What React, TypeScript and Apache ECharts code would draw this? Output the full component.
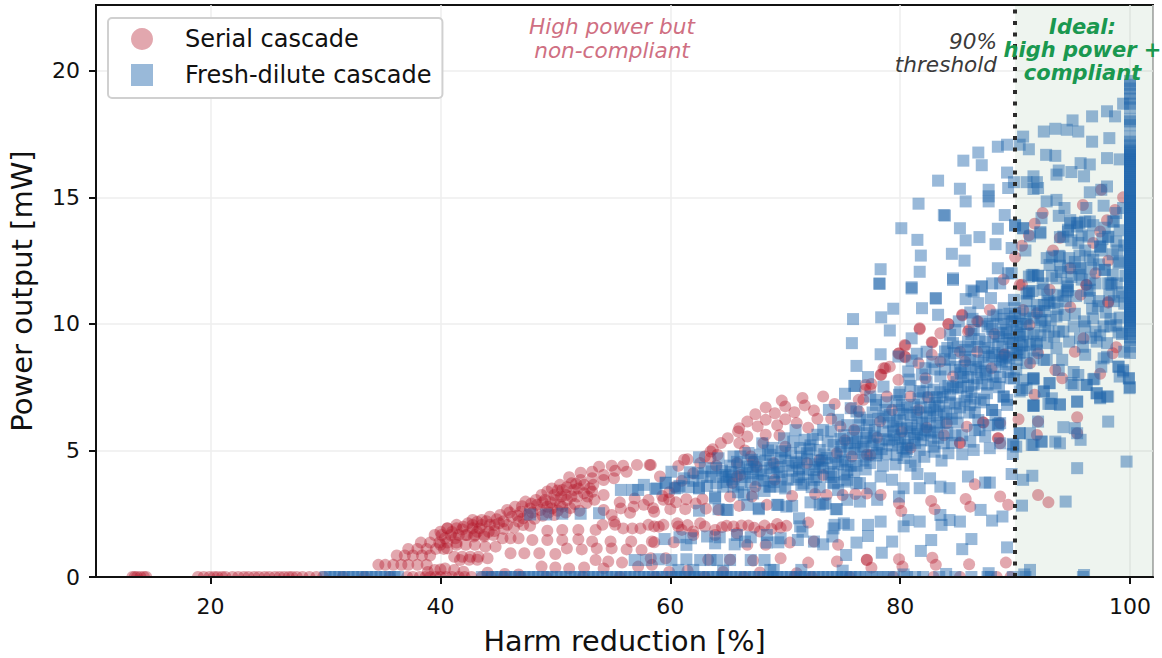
import React, { useEffect, useRef } from "react";
import * as echarts from "echarts";

type P = [number, number];

const xTicks = [20, 40, 60, 80, 100];
const yTicks = [0, 5, 10, 15, 20];

// Serial cascade
const serialZeroRow: P[] = [[13.2,0],[13.4,0],[13.6,0],[13.9,0],[14.2,0],[14.4,0],[18.9,0],[19.4,0],[19.9,0],[20.3,0],[20.6,0],[21,0],[21.3,0],[21.9,0],[22.4,0],[22.9,0],[23.3,0],[23.8,0],[24.2,0],[24.7,0],[25.1,0],[25.6,0],[26,0],[26.4,0],[26.8,0],[27.1,0],[27.5,0],[28,0],[28.6,0],[29.2,0],[29.8,0],[31.5,0],[33.4,0],[35.6,0],[37.1,0],[37.6,0],[38.2,0],[38.7,0],[39.1,0],[39.6,0],[40,0],[40.5,0],[41,0],[41.6,0],[42.1,0],[42.7,0],[43.6,0],[44.4,0],[45.5,0],[47,0],[49.2,0],[52.4,0],[55.6,0],[58.7,0],[63,0],[66.4,0],[70.8,0],[72.3,0],[75.6,0],[79.4,0],[82.9,0],[85.2,0],[88.4,0],[89.6,0]];
const serialLowLeft: P[] = [[34.6,0.48],[35.2,0.48],[35.9,0.48],[36.6,0.48],[37.2,0.48],[38,0.48],[38.8,0.48],[36.2,0.85],[36.9,0.85],[37.6,0.85],[38.4,0.85],[39.1,0.85],[37.2,1.11],[38,1.11],[38.8,1.11],[39.6,1.11],[40.3,1.11],[38.3,1.36],[39.1,1.36],[39.9,1.36],[40.6,1.36],[41.4,1.36],[39.5,1.66],[40.1,1.66],[40.9,1.66],[41.6,1.66],[42.3,1.66],[43,1.66],[43.8,1.66],[40.6,1.93],[41.4,1.93],[42.8,1.93],[38.9,0.2],[39.5,0.28],[40,0.3],[40.4,0.34],[41.2,0.28],[42,0.21],[44.1,0.17],[45.6,0.12],[46.8,0.1]];
const serialRise: P[] = [[40,1.79],[40.6,1.92],[41.4,2.06],[42,1.99],[42.8,2.06],[43.6,2.06],[44.3,2.06],[45.1,2.12],[45.8,2.06],[46.8,2.19],[43.2,1.79],[44.2,1.79],[42.8,2.25],[43.6,2.25],[44.3,2.38],[45.2,2.45],[45.8,2.65],[46.2,2.38],[46.5,2.78],[47,2.58],[47.4,2.98],[47.8,2.71],[48.3,3.04],[48.4,2.85],[48.7,2.65],[48.8,3.24],[49.1,3.04],[49.3,2.78],[49.7,3.5],[49.7,2.71],[49.9,3.24],[50,3.04],[50.4,3.64],[50.4,2.85],[50.6,3.44],[50.6,2.78],[50.9,3.24],[51,3.04],[51.2,3.94],[51.4,3.7],[51.6,3.44],[51.9,3.18],[52.2,4.12],[52.2,3.83],[52.5,3.64],[52.5,3.31],[52.8,3.18],[53.2,4.16],[53.2,3.9],[53.3,3.64],[53.2,3.37],[53.8,4.36],[54.2,4.03],[54.2,3.83],[54.2,3.24],[54.9,4.4],[55.1,3.9],[55.2,4.2],[55.9,4.4],[56.2,4.16],[57.1,4.43],[58.2,4.43]];
const serialRiseDense: P[] = [[44.9,2.28],[45.5,2.2],[46,2.55],[46.7,2.42],[47.2,2.32],[47.6,2.45],[48,2.55],[48.2,2.3],[48.9,2.42],[49.4,2.55],[49.9,2.45],[50.2,2.62],[50.9,2.55],[51.3,2.72],[51.7,2.88],[52.1,2.62],[52.7,2.92],[53.4,3.05],[47.1,2.8],[47.9,2.9],[48.9,2.95],[49.6,2.95],[50.5,3.18],[51.4,3.18],[52,3.5],[53,3.5],[49.3,3.38],[50.2,3.42],[51,3.55],[51.8,3.68],[41.9,1.88],[42.4,2.12],[43.2,2.18],[44,2.2],[44.7,2.05],[45.5,1.9],[46.4,1.95],[47.2,2.05],[41,1.78],[43.4,1.92],[44.7,1.82]];
const serialLens: P[] = [[40.4,1.53],[41.3,1.53],[42.2,1.66],[42.9,1.6],[43.8,1.6],[44.6,1.66],[45.4,1.53],[46.1,1.53],[46.8,1.53],[40,1.27],[40.6,1.13],[41.4,1.27],[42.2,1.27],[43,1.27],[43.9,1.2],[44.8,1.2],[41.2,0.8],[41.9,0.8],[42.6,0.8],[43.3,0.8],[44.1,0.74],[41.7,0.67],[42.5,0.68],[43.2,0.68],[46.1,0.94]];
const serialColumns: P[] = [[47.8,2.02],[48,1.46],[49.3,1.83],[49.3,1.46],[50.6,1.86],[50.6,1.46],[51,1.13],[52,1.86],[52,1.49],[52.3,1.09],[53.5,1.86],[53.2,1.4],[54.8,1.4],[53.6,1.13],[54.9,1.13],[56.2,1.09],[57.5,1.07],[56.6,1.4],[58.4,1.4],[47.3,0.94],[48.6,0.94],[50,0.91],[55.1,2.19],[55.7,2.71],[56.8,2.78],[58.1,3.04],[58.6,2.58],[56.7,1.92],[57.4,1.92],[58.1,2.06],[59,1.99],[55.2,2.06],[55.9,1.92],[54.2,2.65],[54.9,2.45],[54.1,2.06],[56.5,2.54],[57.7,2.85],[48.8,0.41],[50,0.38],[51.2,0.34],[52.5,0.38],[53.5,0.67],[54.6,0.61],[55.8,0.57],[57.2,0.41],[58.4,0.48],[54.2,0.34],[55.6,2.95],[56.9,3.1],[59.3,3.2],[60.4,3.55],[61,3.8],[59.9,3.35]];
const serialUpper: P[] = [[58.3,4.43],[60.7,4.39],[61.5,4.65],[59.1,3.97],[63,4.76],[63.7,5.05],[64.4,5.29],[65,5.48],[66,5.29],[66,5.88],[66.7,6.14],[67.4,6.43],[68.3,6.7],[69.1,6.47],[69.7,6.97],[70,6.74],[70.8,6.51],[71.5,7.07],[71.7,6.78],[72.5,6.58],[73.3,7.13],[74.3,6.84],[68.3,6.21],[67.6,5.95],[69.3,6],[70,6.23],[71,6.08],[66.7,5.55],[68.3,5.62],[65.9,5.75],[62.6,4.5],[61.2,4.63],[63.5,4.69],[64.1,4.83],[65.8,4.5],[67.2,4.56],[63.5,4.96],[65.8,3.97],[67.4,3.57],[69.1,3.84],[65.4,3.71],[66.1,4.03],[67,4.76],[67.5,4.36],[68.1,5.29],[69,4.5],[70,5.15],[71.9,4.5],[73,4.63],[74.5,4.89],[75.8,4.76],[77.1,4.83],[74.8,5.95],[76,5.81],[73.3,4.03],[76.8,7],[76.4,6.54],[75.7,6.67],[62,4.1],[64,4.4],[66.5,5],[69.5,5.6],[72,5.9],[72.8,6.25],[74,6.25]];
const serialLowerRows: P[] = [[58.5,2.72],[59.9,3.07],[60,2.68],[61.4,3.07],[61.3,2.68],[62.8,3.07],[64.2,2.65],[65.2,3.18],[66,2.81],[67.1,3.18],[68.4,2.85],[70.6,3.2],[72.6,3.28],[73.6,3.24],[75,3.24],[76.1,3.28],[58.6,2],[59.4,2.06],[60.6,2.12],[61,1.86],[62,1.8],[62.6,2.12],[63.9,1.86],[64.5,1.97],[66.2,2.03],[66.8,2.03],[67.8,1.8],[68.2,2.03],[69.3,2.09],[70.1,2.02],[58.6,1.37],[60.3,1.37],[62,1.66],[63.9,1.66],[65.8,1.73],[66.7,1.27],[68.3,1.27],[70.4,1.36],[72.5,1.4],[74.6,1.27],[72,2.15],[58.3,0.74],[59.6,0.74],[63.3,0.68],[65.2,0.68],[67.2,0.65],[69.6,0.74],[72,0.57],[74.5,0.61],[77.1,0.68],[59.9,0.2],[61.5,0.25],[64.6,0.2],[67.8,0.18],[71,0.15],[59.4,3.05],[60.5,2.95],[62.2,2.9],[63.1,2.7],[60.7,2],[61.5,2.05],[63,2],[64.9,2.02],[65.5,2],[67.3,1.95],[68.8,1.9],[69.6,1.95]];
const serialRight: P[] = [[95.4,6.31],[92,3.24],[92.9,2.95],[88.7,3.18],[89.4,2.85],[91.9,5.61],[95.4,5.68],[92,6.14],[90.3,6.23],[88.7,6.08],[88.7,5.28],[88.5,5.48],[87.2,6.11],[85.2,5.31],[85.7,3.08],[86.1,2.78],[86.5,3.66],[82.7,3],[83,2.68],[79.9,2.91],[80.1,2.61],[78.3,3.24],[77.1,3.3],[82.8,0.76],[83.1,0.48],[86,0.5],[89.2,0.57],[79.9,0.7],[80.2,0.41],[77.1,0.67],[77.5,0.37],[98.8,9.08],[98.5,8.84],[97.4,8.03],[94.1,7.85],[95.2,8.9],[94.8,10.66],[98.1,10.84],[91.7,7.2],[87.8,10.55],[86.7,10.1],[85.4,10.33],[81.7,9.79],[84.2,10],[83.5,9.63],[85.9,9.7],[82.8,9.26],[80.4,9.17],[79.9,8.84],[80.4,8.71],[79.1,8.31],[78.7,8.25],[78.3,7.99],[77.4,7.46],[77,7.59],[90,12.64],[90.6,13.09],[92.4,14.38],[91.7,13.96],[93.9,13.4],[91.2,13.5],[93.3,12.9],[95.9,14.7],[97.5,15.3],[98.7,14.5],[98,14.1],[97.4,13.65],[96.8,13.2],[98.1,12.5],[94.8,12.2],[97,12],[99.4,15],[96.2,11.55],[93,11.35],[90.6,11.55],[89,11.75],[98.1,10.88],[96.2,11.54],[91.25,9.96],[95.95,9.43],[89.1,8.8],[91.3,8.45],[93.5,8.18],[90.4,11.54],[92,8.84],[91.9,10.42],[90.7,10.55],[95.7,11.15]];
const serialDense: P[] = [[81.7,9.83],[85.4,10.36],[86.8,10.09],[84.2,9.99],[82.75,9.28],[86,9.76],[80.45,9.14],[80.45,8.68],[82.75,8.78],[79.85,8.82],[78.55,8.25],[78.35,7.99],[79.85,7.79],[82.2,7.85],[81.6,8.45],[83.5,8.51],[85.65,8.51],[87.95,8.25],[89,8.78],[85.2,8.9],[84.6,7.92],[77.5,7.63],[76.95,7.39],[76.4,7],[78.85,7.13],[80.9,7.13],[81.6,6.6],[78.25,6.14],[80.15,5.75],[84.05,6.07],[87.25,6.1],[85.8,5.94],[88.55,5.48],[85.2,5.28],[77.4,4.82],[79.3,6.6],[82.4,7.1],[83.8,5.6],[75.2,5.4],[78,5.5],[80.9,5.1],[82.3,5.9],[86.7,8.9],[88.2,9.6]];

// Fresh-dilute cascade
const freshZeroRow: P[] = [[30,0],[30.4,0],[30.8,0],[31.2,0],[31.6,0],[32,0],[32.4,0],[32.8,0],[33.2,0],[33.6,0],[34,0],[34.4,0],[34.8,0],[35.2,0],[35.6,0],[36,0],[36.3,0],[43.6,0],[44.1,0],[44.5,0],[44.9,0],[45.3,0],[45.7,0],[46.1,0],[46.5,0],[46.9,0],[47.3,0],[47.7,0],[48.1,0],[48.5,0],[48.9,0],[49.3,0],[49.7,0],[50.1,0],[50.5,0],[50.9,0],[51.3,0],[51.7,0],[52.1,0],[52.5,0],[52.9,0],[53.3,0],[53.7,0],[54.1,0],[54.5,0],[54.9,0],[55.3,0],[55.7,0],[56.1,0],[56.5,0],[56.9,0],[57.3,0],[57.7,0],[58.1,0],[58.5,0],[58.9,0],[59.3,0],[59.7,0],[60.1,0],[60.5,0],[60.9,0],[61.3,0],[61.7,0],[62.1,0],[62.5,0],[62.9,0],[63.3,0],[63.7,0],[64.1,0],[64.5,0],[64.9,0],[65.3,0],[65.7,0],[66.1,0],[66.5,0],[66.9,0],[67.3,0],[67.7,0],[68.1,0],[68.5,0],[68.9,0],[69.3,0],[69.7,0],[70.1,0],[70.5,0],[70.9,0],[71.3,0],[71.7,0],[72.1,0],[72.5,0],[72.9,0],[73.3,0],[73.7,0],[74.1,0],[74.5,0],[74.9,0],[75.3,0],[75.7,0],[76.1,0],[76.5,0],[77,0],[77.5,0],[78,0],[78.5,0],[79,0],[79.5,0],[80.6,0],[81.3,0],[82,0],[83.4,0],[84.8,0],[86.2,0],[87.6,0],[87.9,0],[89.8,0],[90.9,0],[95.9,0]];
const freshStrip: P[] = [[100,19.6],[100,19.45],[100,19.3],[100,19.1],[100,18.9],[100,18.7],[100,18.55],[100,18.1],[100,18],[100,17.85],[100,17.4],[100,17.2],[100,17.05],[100,16.9],[100,16.82],[100,16.75],[100,16.66],[100,16.6],[100,16.52],[100,16.45],[100,16.38],[100,16.3],[100,16.22],[100,16.15],[100,16.07],[100,16],[100,15.9],[100,15.8],[100,15.72],[100,15.65],[100,15.58],[100,15.5],[100,15.4],[100,15.3],[100,15.22],[100,15.15],[100,15.08],[100,15],[100,14.92],[100,14.85],[100,14.78],[100,14.7],[100,14.62],[100,14.55],[100,14.48],[100,14.4],[100,14.32],[100,14.25],[100,14.17],[100,14.1],[100,14.02],[100,13.95],[100,13.87],[100,13.8],[100,13.72],[100,13.65],[100,13.58],[100,13.5],[100,13.42],[100,13.35],[100,13.27],[100,13.2],[100,13.12],[100,13.05],[100,12.97],[100,12.9],[100,12.82],[100,12.75],[100,12.67],[100,12.6],[100,12.52],[100,12.45],[100,12.37],[100,12.3],[100,12.22],[100,12.15],[100,12.07],[100,12],[100,11.92],[100,11.85],[100,11.77],[100,11.7],[100,11.62],[100,11.55],[100,11.47],[100,11.4],[100,11.32],[100,11.25],[100,11.17],[100,11.1],[100,11.02],[100,10.95],[100,10.87],[100,10.8],[100,10.72],[100,10.65],[100,10.57],[100,10.5],[100,10.42],[100,10.35],[100,10.27],[100,10.2],[100,10.12],[100,10.05],[100,9.95],[100,9.85],[100,9.72],[100,9.6],[100,9.47],[100,9.35],[100,9.1],[100,8.85]];
const freshTop: P[] = [[99.4,18.7],[98,18.4],[98.7,18.2],[96.7,18.2],[95,18.04],[93.5,17.71],[94.5,17.67],[95.5,17.6],[92.5,17.6],[90.7,17.4],[98.2,17.34],[96.7,17.2],[88.5,17],[89.3,17.08],[90.4,17.08],[91.2,16.9],[86.8,16.77],[92.7,16.68],[93.5,16.64],[98,16.55],[99.1,16.5],[85.5,16.45],[87.1,16.27],[95.7,16.35],[96.5,16.3],[93.8,16.06],[93.6,15.9],[94.9,16],[96,15.83],[89.3,15.98],[91.6,15.83],[83.3,15.66],[85.2,15.34],[87.7,15.3],[89.9,15.6],[89.4,15.37],[91,15.6],[91.9,15.6],[91.6,15.33],[92,15.37],[98,15.43],[96.5,15.2],[97.5,15.3],[87.7,15.04],[87.7,14.84],[85.7,14.84],[81.6,14.75],[92.75,14.84],[93.6,14.9],[94.3,14.58],[97.7,14.67],[96.2,14.58],[83.8,14.3],[83.9,14.28],[89.1,14.3],[93.8,14.27],[92.3,14.18],[94.8,13.98],[95.6,13.98],[96.5,14.05],[95.4,13.85],[98.8,14.38],[99.4,14.58],[98.5,14.05],[80.1,13.78],[85.2,13.78],[88.5,13.76],[90,13.88],[90.7,13.78],[92.2,13.63],[94.6,13.72],[91.3,13.46],[93.9,13.43],[81.5,13.32],[85.7,13.3],[86.9,13.43],[88.3,13.15],[98.1,13.43],[81.8,12.7],[84.5,12.77],[85.6,12.5],[89.7,13],[90.9,12.9],[97.4,13.06],[92.75,12.6],[93.8,12.69],[93,12.33],[95.6,12.2],[96.8,12.53],[78.3,12.16],[78.2,11.6],[81.7,12.06],[84.6,11.8],[88.5,12.2],[89.7,12],[81,11.4],[83.1,11],[86.4,11.28],[87.1,11.48],[88,11.6],[88.7,11.6],[91.2,11.87],[92,11.9],[91.6,11.94],[93.6,11.8],[94.6,11.48],[94.5,11.28],[91.2,11.28],[96.5,11.35],[98.1,11.6],[98.5,11.94],[99,12.4],[97.8,12.14],[95.6,11.94]];
const freshRightCluster: P[] = [[90,13.91],[90.7,13.78],[92.2,13.58],[94.8,14.1],[95.4,14],[96.1,14.04],[94.6,13.65],[94.2,13.45],[98.1,13.45],[98.6,14.04],[97.4,13.05],[93.2,12.66],[93.9,12.66],[96.5,12.66],[95.7,12.2],[97.8,12.13],[99.1,12.46],[91.45,11.93],[92,11.9],[94.5,11.6],[98.3,11.6],[98.85,11.6],[89.4,12],[96.5,11.74],[91.2,11.21],[94.6,11.34],[98.4,11.54],[93,10.82],[96.5,11.02],[99,11.08],[90,10.62],[93.6,10.29],[92.2,10.09],[96.8,10.22],[97.7,9.9],[99,9.66],[90.4,9.57],[93.8,9.7],[95.65,9.43],[89.6,9.24],[91.9,9.3],[93.6,9.04],[97.1,9.3],[98,9.24],[96.1,8.78],[97.7,8.64],[92.5,8.58],[94.1,8.58],[90.15,8.58],[88.85,8.51],[97.5,8.31],[93.8,8.18],[99,8.31],[99.4,8.18],[99.9,7.85],[99.1,7.92],[99.95,7.46],[95.1,8.1],[95.5,7.98],[96.8,7.81],[89.9,7.85],[91.6,7.85],[93,7.66],[94.9,7.66],[96.25,7.59],[97.1,7.26],[98,7.13],[97.4,7.06],[92.5,7.33],[91,7.46],[90.4,7.33],[89,7.13],[89.3,6.8],[91.6,6.8],[92.9,6.84],[93.9,6.8],[93.2,7.06],[95.4,6.93],[94.2,11.1],[92.6,10.5],[95.2,10.4],[97.2,10.7],[96.1,9.9],[94.7,9.3],[92.9,9.7],[91,10.9],[89.7,10.1],[98.3,10.2]];
const freshLowRight: P[] = [[99.7,4.56],[95.4,4.3],[94.4,2.98],[90.6,2.82],[91.5,4],[90.7,3.84],[89.7,4.07],[98.1,6.14],[95.7,5.42],[95.2,5.88],[94.2,5.92],[93.9,5.28],[93.5,5.35],[92.3,5.35],[91.6,5.22],[91.3,5.68],[90.4,5.68],[90.1,5.15],[89.8,4.86],[89.8,5.26],[88.5,6],[88,6.6],[91.6,6.76],[93.1,6.84],[93.9,6.83],[95.4,6.93],[97.1,7.26],[97.4,7.1],[98.1,7.13],[100,7.5],[99.9,7.85],[99.4,8.12],[99,8.31],[96.2,7.59],[96.9,7.83],[95.1,7.59],[93,7.66],[91.6,7.81],[90.7,7.79],[89.3,7],[86.2,1.5],[89.3,1.17],[85.4,1.1],[82.7,1.46],[81.8,1.03],[79.3,1.4],[78.4,0.96],[88.9,2.39],[88,2.23],[87,2.65],[85.2,2.19],[84.3,2.25],[83.6,2.06],[83.5,2.45],[81.7,2.19],[80.7,2.25],[80.3,2],[77.2,2.06],[78.3,2.19],[77.2,1.62],[87.8,3.73],[87.4,3.73],[85.9,3.97],[84.3,3.51],[83.5,3.57],[82.6,3.9],[81.7,3.51],[81.5,4.07],[80.3,3.51],[79.3,3.84],[78.3,3.97],[77.4,3.51],[78,3.05],[79.9,3.18],[91.3,0.28],[96,0.08],[87.7,0.15],[90.8,0.1],[84,0.12],[80.3,0.1],[92,6.14],[88.7,6.08],[95.4,5.68],[88.7,5.28]];
const freshLeft: P[] = [[47.8,2.47],[49.2,2.47],[50.6,2.5],[52.2,2.5],[53.8,2.52],[55.7,3.44],[56.7,3.44],[57.2,3.44],[57.7,3.64],[58.7,3.48],[59.6,3.73],[60.4,3.5],[60.1,4.16],[61.7,4.14],[62.5,4.73],[62.5,3.5],[64.2,4.69],[65.5,4.76],[68,5.28],[63.9,3.18],[62.5,2.62],[64.9,2.65],[64.2,2.68],[67.7,2.68],[69.3,2.85],[70.1,2.78],[72.2,2.95],[73,2.85],[73.5,2.91],[74.5,2.68],[66.7,2.85],[68.7,3.57],[71.4,3.64],[74.2,3.73],[75.2,3.77],[76.2,3.7],[71.2,2.32],[71.3,2],[71.5,1.79],[74.2,1.92],[74.3,2.06],[75.1,2.12],[75.5,2.06],[74.1,1.6],[59.5,1.5],[60.8,1.57],[61.8,1.53],[61.4,1.27],[63.2,1.6],[64.3,1.57],[63.9,1.33],[65.6,1.29],[65.8,1.66],[67,1.57],[66.5,1.4],[68.4,1.66],[68.4,1.36],[69.6,1.53],[69.4,1.37],[71.1,1.46],[72.5,1.4],[73.3,1.29],[76.2,1.36],[75.3,0.87],[56.9,0.67],[57.9,0.67],[59,0.7],[60.1,0.67],[61.4,0.7],[62.6,0.67],[63.5,0.67],[64.1,0.67],[65.2,0.67],[67,0.67],[68.2,0.67],[60.7,0.28],[62,0.28],[64.6,0.25],[68.7,0.28],[69,0.28],[71.4,0.28],[75,0.25]];
const freshMid: P[] = [[58.8,3.5],[59.6,3.71],[60.6,3.53],[62.5,3.53],[62.8,3.97],[63.6,4.17],[64.8,4.03],[65.1,3.97],[64.6,3.57],[65.5,3.57],[66.1,4.76],[66.7,4.36],[67.2,4.1],[67.1,4.63],[67.8,4.83],[68.7,4.83],[69.7,4.96],[69.9,5.48],[70.7,5.35],[71.7,5.42],[72.8,5.62],[73.3,5.81],[73.8,6.6],[74.6,6.21],[75.7,6.67],[75.2,7.24],[76.1,7.55],[76.4,6],[77.1,5.68],[76.8,5.15],[75.4,5.29],[74.2,5.22],[73,5.02],[71.9,4.89],[71,4.5],[72.5,4.23],[74,4.5],[75.4,4.23],[72.5,3.84],[69.6,3.57],[69.7,3.97],[68.7,4.3],[71.2,4.3],[71.6,3.7],[66.4,3.25],[68.6,3.57],[63.9,3.11],[65,2.65],[67.7,2.72],[69.4,2.85],[70.6,2.81],[73.3,2.89],[74.4,2.68],[75.4,3.05],[76.5,2.98],[74.2,3.7],[74.6,3.44],[75.4,3.84],[76.5,3.71],[70,4.6],[70.5,4.9],[72.2,5.2],[73.6,4.7],[74.8,4.95],[75.9,5.5],[77.6,5.2],[66,4.3],[65.2,4.4],[67.9,4.2],[70.9,5.8],[68.9,5.1],[71.2,3.95],[73.3,4.3],[75,4.6],[77.4,4.5],[66.8,4.9],[63,4.3],[64,4.3],[69,4.1],[72.9,4.6]];
const freshDense: P[] = [[78.2,11.58],[81,11.45],[83.1,11.02],[79.4,10.6],[78.35,10.26],[81.9,10.62],[83.3,10.36],[75.9,10.19],[79.1,9.74],[75.8,9.24],[78.3,8.8],[76.2,8.34],[77.2,7.9],[76,7.55],[84.6,11.74],[87.1,11.48],[86.2,11.32],[85.7,10.98],[86.8,10.82],[87.9,11.02],[86.1,10.45],[89,10.62],[88.4,10.36],[89.9,10.95],[91,11.2],[90.4,10.42],[91.9,10.75],[92.5,11.35],[87.8,10],[88.8,10],[89.85,10.1],[91,10],[92.3,10.16],[84.8,9.76],[84.35,9.57],[81,9.43],[84.6,9.24],[86.4,9.76],[87.4,9.3],[86.7,9.1],[88.1,9.5],[89.3,9.63],[90.4,9.5],[91.6,9.63],[92.8,9.24],[83.9,8.91],[85.65,8.97],[81.45,8.82],[79.85,8.71],[82.2,8.25],[80.7,8.12],[84.35,8.58],[86.1,8.58],[87.25,8.45],[88.7,8.58],[90.1,8.78],[91.6,8.64],[92.75,8.58],[83.5,7.92],[85.2,8.18],[86.7,7.85],[88.1,7.92],[89.6,7.85],[91.6,7.85],[80.9,7.55],[78.55,7.52],[77.4,7.13],[80.15,6.8],[81.6,7.06],[83.05,6.87],[84.35,7.2],[85.8,7.13],[86.1,6.8],[87.55,7.26],[89,7.13],[90.6,7.39],[92.5,7.33],[91.6,6.76],[88,6.6],[88.55,6.05],[76.2,6.54],[77.1,6.21],[78.55,6.34],[80,6.21],[79.4,5.94],[82.6,6.34],[83.8,6.54],[84.9,6.47],[86.5,5.81],[76.1,5.28],[77.7,5.55],[79.7,4.82],[80.7,5.22],[81.7,5.02],[83,4.95],[83.8,5.28],[84.2,4.89],[86.4,5.02],[87.4,5.55],[87.8,5.09],[89.85,5.22],[90.4,5.68],[92.3,5.35],[91.45,5.22],[82.3,7.7],[82.9,7.4],[83.2,7.1],[84.9,7.7],[85.3,7.5],[85.9,7.9],[86.2,7.3],[86.5,6.5],[86.8,6.2],[87,6.9],[81.4,6.5],[81.9,6.1],[82.2,5.8],[82.7,5.4],[80.6,5.9],[79.9,6.6],[79,5.4],[78,4.9],[78.8,6.9],[79.9,7.2],[80.9,6.4],[83.4,6.1],[84.1,5.7],[85,6.1],[85.4,5.6],[81.2,5.5],[79.8,5.3],[77.9,6.8],[80.3,4.7],[83.9,8.2],[85.9,9.3],[87.3,8.9],[88.9,9.1],[90.1,8.2],[89.4,8.1],[87.6,7.6],[88.6,7.5]];
const freshBand: P[] = [[60.8,3.6],[61.2,3.9],[61.6,3.55],[62,3.8],[62.4,4.1],[63.2,3.6],[63.5,3.95],[64,3.7],[64.5,4.2],[64.9,3.75],[65.3,4.15],[65.8,4.55],[66.2,3.65],[66.5,3.95],[66.9,4.25],[67.3,4.55],[67.6,3.85],[68,4.05],[68.3,4.6],[68.5,5],[69,3.75],[69.3,4.35],[69.6,4.7],[70,5],[70.2,3.85],[70.6,4.2],[70.9,4.55],[71.3,5.1],[71.5,4.25],[71.9,4.65],[72.1,5.05],[72.4,5.45],[72.7,3.95],[73,4.35],[73.4,4.85],[73.7,5.35],[74,5.75],[74.2,4.15],[74.6,4.45],[74.9,5.15],[75.1,5.6],[75.4,6],[75.7,4.4],[76,4.9],[76.3,5.35],[76.5,6.3],[76.8,4.6],[77,5.5],[77.3,6],[77.6,6.5],[77.9,7],[77.9,4.8],[78.2,5.25],[78.5,5.75],[78.7,6.6],[79,6.1],[79.3,5.2],[79.5,5.6],[79.7,6.95],[80,7.3],[80.2,5.1],[80.4,5.5],[80.6,6.7],[80.8,7.8],[81,6],[81.3,5.3],[81.5,6.3],[81.7,7.35],[81.9,8],[82,5.6],[82.3,6.5],[82.5,7.1],[82.8,8.5],[83,5.7],[83.2,6.4],[83.5,7.3],[83.8,8.6],[84,6.1],[84.3,6.9],[84.6,7.5],[84.8,8.3],[85,9.1],[85.2,6.7],[85.5,7.9],[85.7,8.7],[86,6.5],[86.2,9.6],[86.4,7.6],[86.6,8.3],[86.9,9.4],[87.1,10.1],[87.3,7],[87.5,8],[87.7,8.7],[88,9.8],[88.3,8.3],[88.5,9.2],[88.7,7.9],[89,10.2],[89.2,8.4],[89.5,9.4],[89.8,8.9],[90,10.3],[90.2,9],[90.5,10],[90.8,8.9],[91.1,9.6],[91.3,10.5],[91.5,11.3],[91.8,9.2],[92.1,10.5],[92.4,11.6],[92.6,9.9],[92.9,10.9],[93.2,11.9],[93.4,9.5],[93.7,10.6],[93.9,12.3],[94.2,9.7],[94.4,10.9],[94.7,12.6],[94.9,13.3],[95.1,9.9],[95.3,11.1],[95.6,12.7],[95.8,13.5],[96,10.1],[96.3,11.3],[96.6,12.2],[96.8,13.9],[97,9.7],[97.3,10.9],[97.5,12.9],[97.8,13.8],[98,8.7],[98.3,9.9],[98.6,10.9],[98.9,12.9],[99.1,13.7],[99.3,9.6],[99.5,10.8],[99.6,11.9]];
const freshCore: P[] = [[64.6,3.95],[65.4,3.85],[66.2,4.1],[67,3.75],[67.5,4.35],[68.1,3.8],[68.9,4.45],[69.5,4.15],[70.3,4.4],[71,3.85],[71.4,4.75],[72,4.05],[72.6,4.45],[73.2,4.6],[73.8,4.05],[74.4,4.75],[74.8,5.45],[75.2,4.55],[75.6,5.05],[76,4.15],[76.2,5.75],[76.6,5.05],[77,4.75],[77.4,5.35],[77.8,5.8],[78.1,6.25],[78.4,5.05],[78.8,5.45],[79.1,6.4],[79.4,5.75],[79.7,6.15],[80,5.45],[80.3,6.45],[80.6,5.05],[80.9,5.75],[81.2,6.8],[81.5,5.85],[81.8,6.7],[82,7.3],[82.3,6.05],[82.6,5.75],[82.9,6.6],[83.2,5.95],[83.4,6.75],[83.7,7.1],[84,6.45],[84.2,7.55],[84.5,6.25],[84.8,6.85],[85,7.45],[85.3,8.05],[85.6,6.95],[85.9,7.55],[86.2,8.2],[86.5,7.05],[86.8,8.55],[87.1,7.65],[87.4,8.15],[87.7,9.05],[88,8.75],[88.3,7.65],[88.6,9.5],[88.9,8.75],[89.2,9.75],[89.5,8.65],[89.8,9.25],[90.1,9.65],[90.4,8.85],[90.7,9.3],[91,8.45],[91.3,9.15],[91.6,10.25],[91.9,8.95],[92.2,9.55],[92.5,10.75],[92.8,11.15],[93.1,10.15],[93.4,10.85],[93.7,11.15],[94,12.05],[94.3,10.35],[94.6,12.2],[94.9,11.85],[95.2,12.45],[95.5,13.2],[95.8,11.75],[96.1,12.9],[96.4,13.45],[96.7,10.6],[97,11.6],[97.3,12.35],[97.6,13.35],[97.9,10.45],[98.2,11.15],[98.5,12.75],[98.8,13.25],[99.1,10.25],[99.3,11.25],[99.5,13.1],[99.5,8.9],[95.9,9.1],[96.6,9.45],[97.4,9.55],[98.8,9.95],[90.2,9.9],[89.5,10.4],[90.9,10.2],[88.1,10.3],[87.6,9.9],[86.3,10.2],[85.1,10.1],[82.3,8.9],[81,8.55],[83,8.2],[84.1,9.05]];
const freshLowerCore: P[] = [[78.8,4.85],[79.6,4.45],[80.5,4.95],[81.3,4.55],[82.1,4.75],[82.9,5.15],[83.6,4.6],[84.5,5.3],[85.4,4.85],[86.1,5.35],[86.9,5.8],[87.7,6],[88.3,6.4],[84.8,5.6],[83.3,5.5],[81.8,5.4],[80.9,4.4],[78.5,4.4],[77,4.25],[76.2,4.4],[75.1,4.05],[74,3.95],[72.3,3.55],[73,3.55],[70,3.5],[68.2,3.4],[67.2,3.3],[65.9,3.35],[80.1,5.85],[81.5,5.65],[82.6,6.7],[83.9,7.45],[85.6,8.35],[87,8.1],[89.1,8.7],[88.2,8.85],[86.1,9.1],[84.7,8.85],[89,9.65],[90.6,9.15]];

const seriesStyle = (color: string, opacity: number) => ({ color, opacity, borderWidth: 0 });

export default function App() {
  const ref = useRef<HTMLDivElement>(null);
  useEffect(() => {
    const chart = echarts.init(ref.current!, undefined, { renderer: "svg" });
    const font = "DejaVu Sans";
    chart.setOption({
      animation: false,
      textStyle: { fontFamily: font },
      grid: { left: 96, right: 9, top: 5, bottom: 81, outerBoundsMode: "none", containLabel: false, show: true, borderColor: "#111", borderWidth: 2, backgroundColor: "transparent" },
      legend: {
        left: 108, top: 18, z: 15, orient: "vertical", align: "left",
        padding: [9, 11, 11, 23], itemWidth: 22, itemHeight: 22, itemGap: 12,
        backgroundColor: "rgba(255,255,255,0.96)", borderColor: "#d0d0d0", borderWidth: 2, borderRadius: 4,
        textStyle: { fontFamily: font, fontSize: 24, color: "#111", padding: [0, 0, 0, 27] },
        selectedMode: false,
        data: [
          { name: "Serial cascade", icon: "circle" },
          { name: "Fresh-dilute cascade", icon: "rect" },
        ],
      },
      xAxis: [
        {
          type: "value", min: 10.03, max: 102, position: "bottom",
          axisLine: { show: false }, axisTick: { show: false }, axisLabel: { show: false },
          splitLine: { show: true, lineStyle: { color: "#eeeeee", width: 1.5 }, customValues: xTicks },
        },
        {
          type: "value", min: 10.03, max: 102, position: "bottom", z: 10,
          name: "Harm reduction [%]", nameLocation: "middle", nameGap: 49,
          nameTextStyle: { fontFamily: font, fontSize: 28.7, color: "#111" },
          axisLine: { show: true, onZero: false, lineStyle: { color: "#111", width: 2 } },
          axisTick: { show: true, length: 7, lineStyle: { color: "#111", width: 2 }, customValues: xTicks },
          axisLabel: { fontFamily: font, fontSize: 22, color: "#111", margin: 18, customValues: xTicks },
          splitLine: { show: false },
        },
      ],
      yAxis: {
        type: "value", min: 0, max: 22.6,
        name: "Power output [mW]", nameLocation: "middle", nameGap: 60,
        nameTextStyle: { fontFamily: font, fontSize: 29, color: "#111" },
        axisLine: { show: true, lineStyle: { color: "#111", width: 2 } },
        axisTick: { show: true, length: 7, lineStyle: { color: "#111", width: 2 }, customValues: yTicks },
        axisLabel: { fontFamily: font, fontSize: 22, color: "#111", margin: 16, customValues: yTicks },
        splitLine: { show: true, lineStyle: { color: "#eeeeee", width: 1.5 }, customValues: yTicks },
      },
      series: [
        {
          type: "scatter", name: "zones", data: [], silent: true, xAxisIndex: 0,
          markArea: { silent: true, z: 1, itemStyle: { color: "rgba(60,130,70,0.085)" }, data: [[{ xAxis: 90 }, { xAxis: 102 }]] },
          markLine: {
            silent: true, symbol: "none", z: 5, label: { show: false },
            lineStyle: { color: "#2b2b2b", type: [4, 7.5], width: 4, opacity: 1 },
            data: [{ xAxis: 90 }],
          },
        },
        {
          type: "scatter", name: "Serial cascade", symbol: "circle", symbolSize: 12, z: 2, xAxisIndex: 0,
          itemStyle: seriesStyle("#b2182b", 0.38),
          data: [...serialZeroRow, ...serialLowLeft, ...serialRise, ...serialRiseDense, ...serialLens, ...serialColumns, ...serialUpper, ...serialLowerRows, ...serialRight, ...serialDense],
        },
        {
          type: "scatter", name: "Fresh-dilute cascade", symbol: "rect", symbolSize: 12, z: 3, xAxisIndex: 0,
          itemStyle: seriesStyle("#2166ac", 0.46),
          data: [...freshZeroRow, ...freshStrip, ...freshTop, ...freshRightCluster, ...freshLowRight, ...freshLeft, ...freshMid, ...freshDense, ...freshBand, ...freshCore, ...freshLowerCore],
        },
      ],
      graphic: [
        { type: "rect", z: 6, silent: true, shape: { x: 96, y: 577.5, width: 1057, height: 10 }, style: { fill: "#fff" } },
        { type: "text", z: 20, x: 612, y: 38, style: { text: "High power but\nnon-compliant", align: "center", verticalAlign: "middle", font: `italic 21.6px "${font}"`, lineHeight: 24, fill: "#cf6f82" } },
        { type: "text", z: 20, x: 997, y: 53, style: { text: "90%\nthreshold", align: "right", verticalAlign: "middle", font: `italic 21.6px "${font}"`, lineHeight: 23, fill: "#3a3a3a" } },
        { type: "text", z: 20, x: 1082.5, y: 50, style: { text: "Ideal:\nhigh power +\ncompliant", align: "center", verticalAlign: "middle", font: `italic bold 21px "${font}"`, lineHeight: 23, fill: "#1a9850" } },
      ],
    });
    return () => chart.dispose();
  }, []);
  return <div ref={ref} style={{ position: "fixed", left: 0, top: 0, width: 1162, height: 658, background: "#fff" }} />;
}
